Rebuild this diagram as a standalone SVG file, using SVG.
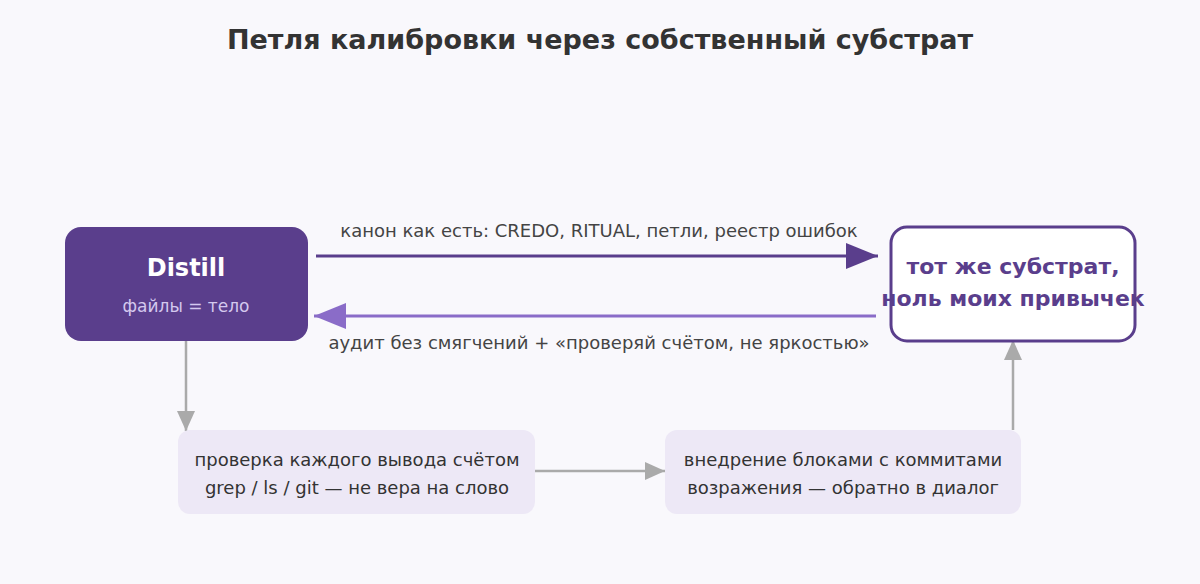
<svg xmlns="http://www.w3.org/2000/svg" width="1200" height="584" viewBox="0 0 1200 584">
<style>
text{font-family:"DejaVu Sans",sans-serif;text-anchor:middle}
.lbl{font-size:18px;fill:#444}
.sm{font-size:18px;fill:#333}
</style>
<defs>
<marker id="ad" markerWidth="32" markerHeight="26" refX="32" refY="13" orient="auto" markerUnits="userSpaceOnUse"><path d="M0,0L32,13L0,26z" fill="#5a3e8c"/></marker>
<marker id="al" markerWidth="32" markerHeight="26" refX="32" refY="13" orient="auto" markerUnits="userSpaceOnUse"><path d="M0,0L32,13L0,26z" fill="#8a6cc8"/></marker>
<marker id="ag" markerWidth="20" markerHeight="18" refX="20" refY="9" orient="auto" markerUnits="userSpaceOnUse"><path d="M0,0L20,9L0,18z" fill="#aaa"/></marker>
</defs>
<rect width="1200" height="584" fill="#f9f8fc"/>
<text x="600" y="49" style="font-size:27px;font-weight:bold;fill:#333">Петля калибровки через собственный субстрат</text>
<g id="connectors">
<line x1="316" y1="256" x2="878" y2="256" stroke="#5a3e8c" stroke-width="3" marker-end="url(#ad)"/>
<line x1="876" y1="316" x2="314" y2="316" stroke="#8a6cc8" stroke-width="3" marker-end="url(#al)"/>
<line x1="186" y1="341" x2="186" y2="431" stroke="#aaa" stroke-width="2.5" marker-end="url(#ag)"/>
<line x1="535" y1="471" x2="665" y2="471" stroke="#aaa" stroke-width="2.5" marker-end="url(#ag)"/>
<line x1="1013" y1="430" x2="1013" y2="340" stroke="#aaa" stroke-width="2.5" marker-end="url(#ag)"/>
<text class="lbl" x="599" y="237">канон как есть: CREDO, RITUAL, петли, реестр ошибок</text>
<text class="lbl" x="599" y="349">аудит без смягчений + «проверяй счётом, не яркостью»</text>
</g>
<g id="distill">
<rect x="65" y="227" width="243" height="114" rx="16" fill="#5a3e8c"/>
<text x="186" y="276" style="font-size:24px;font-weight:bold;fill:#fff">Distill</text>
<text x="186" y="312" style="font-size:17px;fill:#d4c8ee">файлы = тело</text>
</g>
<g id="substrate">
<rect x="891" y="227" width="244" height="114" rx="16" fill="#fff" stroke="#5a3e8c" stroke-width="3"/>
<text x="1013" y="274" style="font-size:22px;font-weight:bold;fill:#5a3e8c">тот же субстрат,</text>
<text x="1013" y="306" style="font-size:22px;font-weight:bold;fill:#5a3e8c">ноль моих привычек</text>
</g>
<g id="check">
<rect x="178" y="430" width="357" height="84" rx="12" fill="#ede8f6"/>
<text class="sm" x="357" y="466">проверка каждого вывода счётом</text>
<text class="sm" x="357" y="494">grep / ls / git — не вера на слово</text>
</g>
<g id="embed">
<rect x="665" y="430" width="356" height="84" rx="12" fill="#ede8f6"/>
<text class="sm" x="843" y="466">внедрение блоками с коммитами</text>
<text class="sm" x="843" y="494">возражения — обратно в диалог</text>
</g>
</svg>
